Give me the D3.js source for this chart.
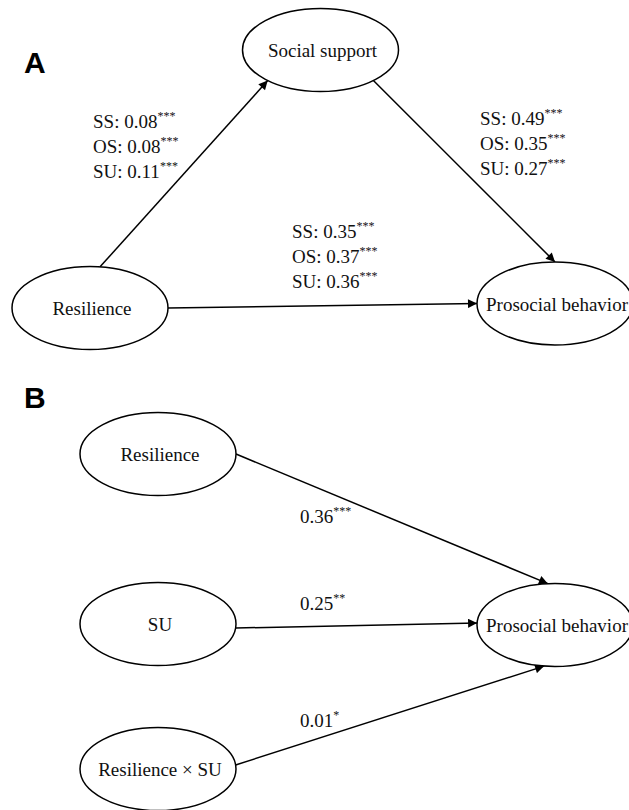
<!DOCTYPE html>
<html>
<head>
<meta charset="utf-8">
<script src="https://cdn.jsdelivr.net/npm/d3@7"></script>
<style>
  body { margin: 0; background: #fff; }
  svg { display: block; }
</style>
</head>
<body>
<div id="wrapper"></div>
<script>
const w = 629
const h = 810
const serif = "'Liberation Serif', 'Times New Roman', Times, 'DejaVu Serif', serif"
const sans = "'Liberation Sans', Arial, Helvetica, sans-serif"

// nodes of the two path models
const nodeIds    = ["A_ss", "A_res", "A_pro", "B_res", "B_su", "B_int", "B_pro"]
const nodeLabels = ["Social support", "Resilience", "Prosocial behavior",
                    "Resilience", "SU", "Resilience \u00d7 SU", "Prosocial behavior"]
const nodeCols   = ["A-mid", "A-left", "A-right", "B-left", "B-left", "B-left", "B-right"]
const nodeRows   = ["A-top", "A-bot", "A-botR", "B-1", "B-2", "B-3", "B-2R"]

// paths (from -> to) and their coefficients
const edgeFrom = ["A_res", "A_ss", "A_res", "B_res", "B_su", "B_int"]
const edgeTo   = ["A_ss", "A_pro", "A_pro", "B_pro", "B_pro", "B_pro"]
const edgeCoefs = [
  [["SS: 0.08", "***"], ["OS: 0.08", "***"], ["SU: 0.11", "***"]],
  [["SS: 0.49", "***"], ["OS: 0.35", "***"], ["SU: 0.27", "***"]],
  [["SS: 0.35", "***"], ["OS: 0.37", "***"], ["SU: 0.36", "***"]],
  [["0.36", "***"]],
  [["0.25", "**"]],
  [["0.01", "*"]]
]

const panels = ["A", "B"]

// layout: columns / rows of the diagram
const x = d3.scaleOrdinal()
  .domain(["A-left", "A-mid", "A-right", "B-left", "B-right"])
  .range([90, 320.5, 555, 158, 555])
const y = d3.scaleOrdinal()
  .domain(["A-top", "A-bot", "A-botR", "B-1", "B-2", "B-3", "B-2R"])
  .range([50, 308, 303.5, 454, 624, 769, 625])
const rx = 78, ry = 41.5

// where each arrow leaves / meets its ellipse (degrees on the ellipse)
const anchorFrom = [-82.6, 47.3, 0, 0, 5.6, -5.6]
const anchorTo   = [132.6, -90, 180, -95.2, 182.8, 98]
// label block placement (x start, first baseline)
const labelPos = [[93, 128], [480, 125], [292, 238], [300, 523], [300, 610], [300, 727]]
const lineGap = 25

const svg = d3.select("#wrapper").append("svg")
  .attr("width", w)
  .attr("height", h)

svg.append("defs").append("marker")
  .attr("id", "arrow")
  .attr("viewBox", "0 0 10 10")
  .attr("refX", 10)
  .attr("refY", 5)
  .attr("markerUnits", "userSpaceOnUse")
  .attr("markerWidth", 11)
  .attr("markerHeight", 9)
  .attr("orient", "auto")
  .append("path")
  .attr("d", "M0,0 L10,5 L0,10 Z")
  .attr("fill", "#000")

const nodes = nodeIds.map((id, i) => ({
  id, label: nodeLabels[i], cx: x(nodeCols[i]), cy: y(nodeRows[i])
}))
const byId = new Map(nodes.map(d => [d.id, d]))

function onEllipse(n, deg) {
  const t = deg * Math.PI / 180
  return [n.cx + rx * Math.cos(t), n.cy + ry * Math.sin(t)]
}

const edges = edgeFrom.map((f, i) => ({
  a: onEllipse(byId.get(f), anchorFrom[i]),
  b: onEllipse(byId.get(edgeTo[i]), anchorTo[i]),
  coefs: edgeCoefs[i],
  pos: labelPos[i]
}))

// arrows
svg.selectAll(".edge")
  .data(edges)
  .enter().append("line")
  .attr("class", "edge")
  .attr("x1", d => d.a[0]).attr("y1", d => d.a[1])
  .attr("x2", d => d.b[0]).attr("y2", d => d.b[1])
  .attr("stroke", "#000")
  .attr("stroke-width", 1.5)
  .attr("marker-end", "url(#arrow)")

// ellipses
const g = svg.selectAll(".node")
  .data(nodes)
  .enter().append("g")
  .attr("class", "node")

g.append("ellipse")
  .attr("cx", d => d.cx).attr("cy", d => d.cy)
  .attr("rx", rx).attr("ry", ry)
  .attr("fill", "#fff")
  .attr("stroke", "#000")
  .attr("stroke-width", 1.5)

g.append("text")
  .attr("x", d => d.cx + 2)
  .attr("y", d => d.cy + 7)
  .attr("text-anchor", "middle")
  .attr("font-family", serif)
  .attr("font-size", 19)
  .attr("fill", "#111")
  .text(d => d.label)

// coefficient labels
edges.forEach(e => {
  e.coefs.forEach((c, j) => {
    const t = svg.append("text")
      .attr("x", e.pos[0])
      .attr("y", e.pos[1] + j * lineGap)
      .attr("font-family", serif)
      .attr("font-size", 19)
      .attr("fill", "#111")
    t.append("tspan").text(c[0])
    t.append("tspan")
      .attr("dy", -8)
      .attr("font-size", 12)
      .text(c[1])
  })
})

// panel letters
svg.selectAll(".panel")
  .data(panels)
  .enter().append("text")
  .attr("class", "panel")
  .attr("x", 24)
  .attr("y", (d, i) => i === 0 ? 73 : 408)
  .attr("font-family", sans)
  .attr("font-weight", "bold")
  .attr("font-size", 30)
  .text(d => d)
</script>
</body>
</html>
